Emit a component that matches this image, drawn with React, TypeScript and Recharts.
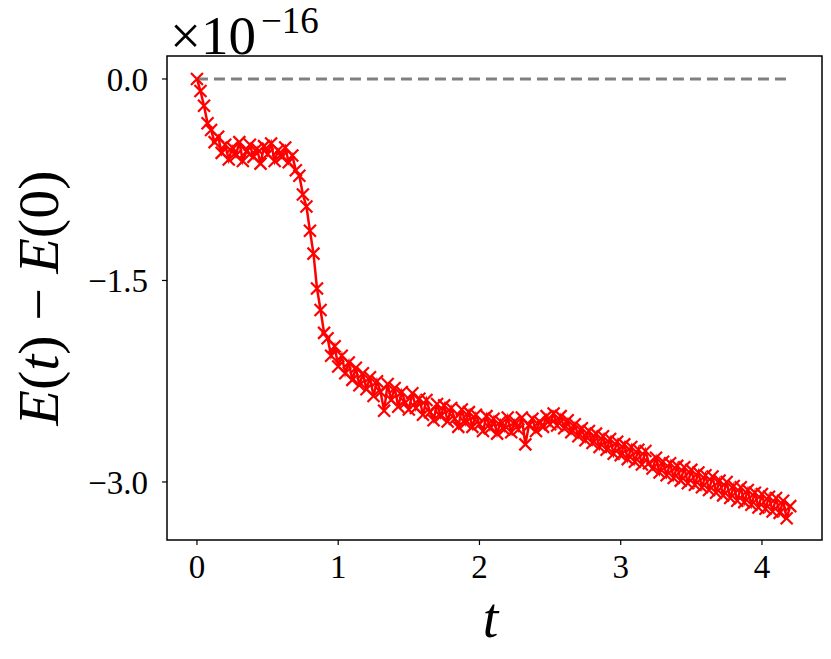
import { LineChart, Line, XAxis, YAxis, ReferenceArea } from 'recharts'

// simulation time grid
const times = [
  0, 0.025, 0.05, 0.075, 0.1, 0.125, 0.15, 0.175, 0.2, 0.225,
  0.25, 0.275, 0.3, 0.325, 0.35, 0.375, 0.4, 0.425, 0.45, 0.475,
  0.5, 0.525, 0.55, 0.575, 0.6, 0.625, 0.65, 0.675, 0.7, 0.725,
  0.75, 0.775, 0.8, 0.825, 0.85, 0.875, 0.9, 0.925, 0.95, 0.975,
  1.0, 1.025, 1.05, 1.075, 1.1, 1.125, 1.15, 1.175, 1.2, 1.225,
  1.25, 1.275, 1.3, 1.325, 1.35, 1.375, 1.4, 1.425, 1.45, 1.475,
  1.5, 1.525, 1.55, 1.575, 1.6, 1.625, 1.65, 1.675, 1.7, 1.725,
  1.75, 1.775, 1.8, 1.825, 1.85, 1.875, 1.9, 1.925, 1.95, 1.975,
  2.0, 2.025, 2.05, 2.075, 2.1, 2.125, 2.15, 2.175, 2.2, 2.225,
  2.25, 2.275, 2.3, 2.325, 2.35, 2.375, 2.4, 2.425, 2.45, 2.475,
  2.5, 2.525, 2.55, 2.575, 2.6, 2.625, 2.65, 2.675, 2.7, 2.725,
  2.75, 2.775, 2.8, 2.825, 2.85, 2.875, 2.9, 2.925, 2.95, 2.975,
  3.0, 3.025, 3.05, 3.075, 3.1, 3.125, 3.15, 3.175, 3.2, 3.225,
  3.25, 3.275, 3.3, 3.325, 3.35, 3.375, 3.4, 3.425, 3.45, 3.475,
  3.5, 3.525, 3.55, 3.575, 3.6, 3.625, 3.65, 3.675, 3.7, 3.725,
  3.75, 3.775, 3.8, 3.825, 3.85, 3.875, 3.9, 3.925, 3.95, 3.975,
  4.0, 4.025, 4.05, 4.075, 4.1, 4.125, 4.15, 4.175, 4.2,
]

// E(t) - E(0), in units of 1e-16
const energyDrift = [
  0, -0.09, -0.20, -0.33, -0.38, -0.47, -0.43, -0.55, -0.49, -0.60,
  -0.51, -0.57, -0.47, -0.61, -0.54, -0.49, -0.58, -0.52, -0.63, -0.50,
  -0.56, -0.48, -0.61, -0.53, -0.58, -0.51, -0.62, -0.57, -0.68, -0.72,
  -0.86, -0.95, -1.13, -1.30, -1.56, -1.72, -1.89, -1.93, -2.06, -1.99,
  -2.14, -2.06, -2.19, -2.11, -2.24, -2.15, -2.28, -2.19, -2.31, -2.22,
  -2.36, -2.25, -2.33, -2.47, -2.27, -2.39, -2.30, -2.44, -2.33, -2.41,
  -2.46, -2.34, -2.45, -2.38, -2.50, -2.39, -2.48, -2.54, -2.42, -2.51,
  -2.43, -2.55, -2.45, -2.53, -2.59, -2.46, -2.56, -2.48, -2.59, -2.50,
  -2.57, -2.62, -2.51, -2.60, -2.53, -2.64, -2.55, -2.61, -2.52, -2.63,
  -2.55, -2.61, -2.52, -2.72, -2.58, -2.53, -2.62, -2.55, -2.59, -2.51,
  -2.57, -2.49, -2.58, -2.51, -2.60, -2.54, -2.63, -2.57, -2.66, -2.60,
  -2.69, -2.62, -2.71, -2.64, -2.74, -2.66, -2.76, -2.68, -2.79, -2.70,
  -2.80, -2.72, -2.83, -2.74, -2.85, -2.76, -2.87, -2.77, -2.86, -2.90,
  -2.82, -2.93, -2.85, -2.95, -2.86, -2.97, -2.88, -2.99, -2.89, -3.01,
  -2.91, -3.02, -2.93, -3.04, -2.95, -3.06, -2.96, -3.08, -2.99, -3.10,
  -3.00, -3.12, -3.03, -3.14, -3.04, -3.15, -3.06, -3.17, -3.08, -3.19,
  -3.09, -3.20, -3.11, -3.22, -3.12, -3.23, -3.14, -3.27, -3.18,
]

const xTicks = [0, 1, 2, 3, 4]
const yTicks = [0, -1.5, -3.0]
const baselineT = [0, 4.2]

const X_DOMAIN = [-0.212, 4.425]
const Y_DOMAIN = [-3.432, 0.171]

const serif = '"Liberation Serif", "DejaVu Serif", serif'

const driftData = times.map((t, i) => ({ t, v: energyDrift[i] }))
const zeroData = baselineT.map((t) => ({ t, v: 0 }))

function fmtY(v: number) {
  if (v === 0) return '0.0'
  return `\u2212${Math.abs(v).toFixed(1)}`
}

function CrossDot(props: any) {
  const { cx, cy, index } = props
  if (cx == null || cy == null) return <g key={`d${index}`} />
  const r = 6
  return (
    <path
      key={`d${index}`}
      d={`M${cx - r},${cy - r}L${cx + r},${cy + r}M${cx - r},${cy + r}L${cx + r},${cy - r}`}
      stroke="#ff0000"
      strokeWidth={2.2}
      fill="none"
    />
  )
}

export default function App() {
  return (
    <div style={{ position: 'relative', width: 831, height: 659, background: '#fff' }}>
      <style>{'body{margin:0}'}</style>
      <LineChart
        width={831}
        height={659}
        margin={{ top: 56, right: 9, left: 107, bottom: 79 }}
      >
        <XAxis
          dataKey="t"
          type="number"
          domain={X_DOMAIN}
          ticks={xTicks}
          allowDataOverflow
          height={40}
          axisLine={false}
          tickSize={5}
          tickMargin={10}
          tickLine={{ stroke: '#000', strokeWidth: 1.2 }}
          tick={{ fill: '#000', fontSize: 33, fontFamily: serif }}
          label={({ viewBox }: any) => (
            <text x={viewBox.x + viewBox.width / 2 - 4} y={637} textAnchor="middle" fontFamily={serif} fontStyle="italic" fontSize={56} fill="#000">
              t
            </text>
          )}
        />
        <YAxis
          dataKey="v"
          type="number"
          domain={Y_DOMAIN}
          ticks={yTicks}
          allowDataOverflow
          width={60}
          axisLine={false}
          tickSize={5}
          tickMargin={14}
          tickLine={{ stroke: '#000', strokeWidth: 1.2 }}
          tickFormatter={fmtY}
          tick={{ fill: '#000', fontSize: 33, fontFamily: serif }}
          label={({ viewBox }: any) => {
            const cy = viewBox.y + viewBox.height / 2
            return (
              <text x={58} y={cy} transform={`rotate(-90 58 ${cy})`} textAnchor="middle" fontFamily={serif} fontSize={58} fill="#000">
                <tspan fontStyle="italic">E</tspan>
                <tspan>(</tspan>
                <tspan fontStyle="italic">t</tspan>
                <tspan>) {'\u2212'} </tspan>
                <tspan fontStyle="italic">E</tspan>
                <tspan>(0)</tspan>
              </text>
            )
          }}
        />
        <Line
          data={zeroData}
          dataKey="v"
          stroke="#808080"
          strokeWidth={3}
          strokeDasharray="11 6"
          dot={false}
          isAnimationActive={false}
        />
        <Line
          data={driftData}
          dataKey="v"
          stroke="#ff0000"
          strokeWidth={2.5}
          dot={CrossDot}
          isAnimationActive={false}
        />
        <ReferenceArea
          x1={X_DOMAIN[0]}
          x2={X_DOMAIN[1]}
          y1={Y_DOMAIN[0]}
          y2={Y_DOMAIN[1]}
          fill="none"
          stroke="#000"
          strokeWidth={1.5}
          ifOverflow="visible"
        />
      </LineChart>
      <div
        style={{
          position: 'absolute',
          left: 170,
          top: 0,
          fontFamily: serif,
          color: '#000',
          whiteSpace: 'nowrap',
        }}
      >
        <span style={{ position: 'absolute', left: 0, top: 52, transform: 'translateY(-80%)', fontSize: 55, lineHeight: 1 }}>
          {'\u00d710'}
        </span>
        <span style={{ position: 'absolute', left: 91, top: 32, transform: 'translateY(-80%)', fontSize: 37, lineHeight: 1 }}>
          {'\u221216'}
        </span>
      </div>
    </div>
  )
}
